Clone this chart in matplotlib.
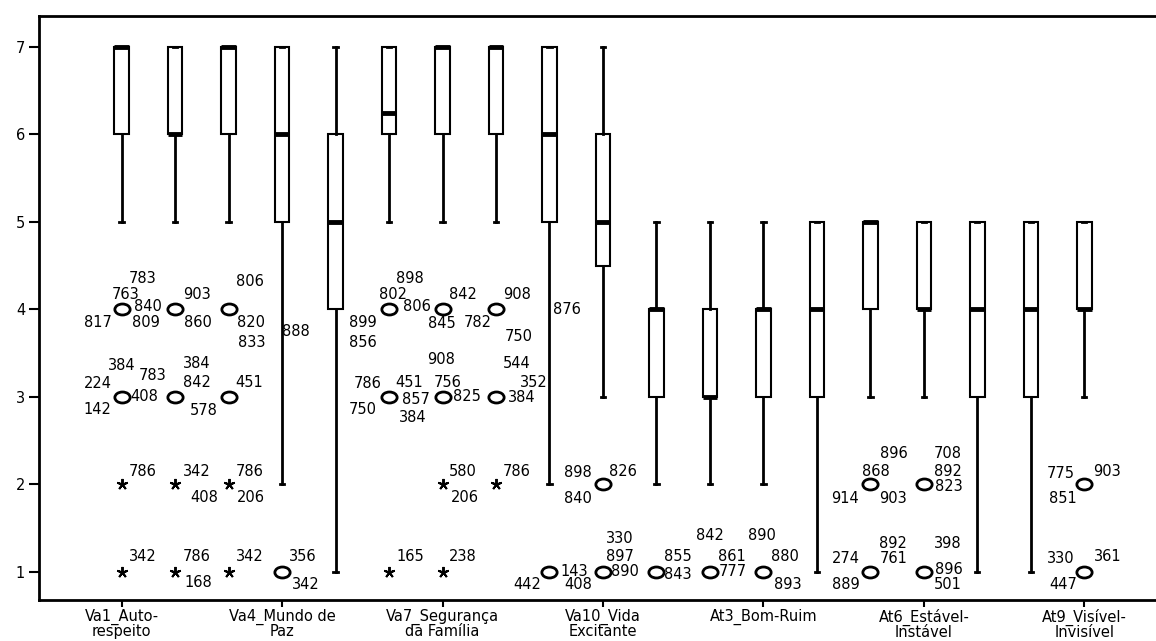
# SPSS style boxplots of the Va / At items, with labelled outliers

import matplotlib.pyplot as plt
from matplotlib.path import Path
from matplotlib.transforms import Affine2D

# Variables (one box each)
cats = ["Va1", "Va2", "Va3", "Va4", "Va5", "Va6", "Va7", "Va8", "Va9", "Va10",
        "At1", "At2", "At3", "At4", "At5", "At6", "At7", "At8", "At9"]
tick_idx = [0, 3, 6, 9, 12, 15, 18]
tick_labels = ["Va1_Auto-\nrespeito", "Va4_Mundo de\nPaz", "Va7_Segurança\nda Família",
               "Va10_Vida\nExcitante", "At3_Bom-Ruim", "At6_Estável-\nInstável",
               "At9_Visível-\nInvisível"]

# Box statistics
q1 = [6, 6, 6, 5, 4, 6, 6, 6, 5, 4.5, 3, 3, 3, 3, 4, 4, 3, 3, 4]
med = [7, 6, 7, 6, 5, 6.25, 7, 7, 6, 5, 4, 3, 4, 4, 5, 4, 4, 4, 4]
q3 = [7, 7, 7, 7, 6, 7, 7, 7, 7, 6, 4, 4, 4, 5, 5, 5, 5, 5, 5]
whislo = [5, 5, 5, 2, 1, 5, 5, 5, 2, 3, 2, 2, 2, 1, 3, 3, 1, 1, 3]
whishi = [7, 7, 7, 7, 7, 7, 7, 7, 7, 7, 5, 5, 5, 5, 5, 5, 5, 5, 5]

# Outliers: variable index, value, kind ('o' outlier, '*' extreme, '' label only), case ids
out_cat = [0, 1, 2, 3, 0, 1, 2, 0, 1, 2, 0, 1, 2, 3,
           5, 6, 7, 8, 5, 6, 7, 6, 7, 9, 5, 6, 8, 9,
           10, 11, 12, 14, 15, 14, 15, 18, 18]
out_val = [4, 4, 4, 4, 3, 3, 3, 2, 2, 2, 1, 1, 1, 1,
           4, 4, 4, 4, 3, 3, 3, 2, 2, 2, 1, 1, 1, 1,
           1, 1, 1, 2, 2, 1, 1, 2, 1]
out_kind = ["o", "o", "o", "", "o", "o", "o", "*", "*", "*", "*", "*", "*", "o",
            "o", "o", "o", "", "o", "o", "o", "*", "*", "o", "*", "*", "o", "o",
            "o", "o", "o", "o", "o", "o", "o", "o", "o"]
out_ids = [
    ["783", "763", "840", "817", "809"], ["903", "860"], ["806", "820", "833"], ["888"],
    ["384", "783", "224", "408", "142"], ["384", "842", "578"], ["451"],
    ["786"], ["342", "408"], ["786", "206"],
    ["342"], ["786", "168"], ["342"], ["356", "342"],
    ["898", "802", "806", "899", "856"], ["842", "845", "782"], ["908", "750"], ["876"],
    ["786", "451", "857", "750", "384"], ["908", "756", "825"], ["544", "352", "384"],
    ["580", "206"], ["786"], ["898", "826", "840"],
    ["165"], ["238"], ["442", "143"], ["330", "897", "890", "408"],
    ["855", "843"], ["842", "861", "777"], ["890", "880", "893"],
    ["896", "868", "914", "903"], ["708", "892", "823"],
    ["892", "274", "761", "889"], ["398", "896", "501"],
    ["775", "903", "851"], ["330", "361", "447"],
]

# label placement around each marker (pixels, y up)
label_offsets = [
    [(21, 31), (4, 15), (26, 3), (-24, -13), (24, -13)], [(22, 15), (23, -13)],
    [(21, 28), (22, -13), (23, -33)], [(14, -22)],
    [(0, 31), (31, 21), (-24, 13), (23, 0), (-24, -13)], [(22, 33), (22, 14), (29, -14)],
    [(21, 14)],
    [(21, 13)], [(22, 13), (29, -13)], [(21, 13), (22, -13)],
    [(21, 15)], [(22, 15), (23, -11)], [(21, 15)], [(21, 15), (24, -13)],
    [(21, 31), (4, 15), (28, 3), (-26, -13), (-26, -33)], [(20, 15), (-1, -14), (35, -13)],
    [(21, 15), (23, -27)], [(17, 0)],
    [(-21, 13), (20, 14), (27, -3), (-26, -13), (24, -21)], [(-1, 37), (5, 14), (24, 0)],
    [(21, 33), (38, 14), (26, -1)],
    [(20, 13), (22, -13)], [(21, 13)], [(-25, 12), (20, 13), (-25, -14)],
    [(21, 15)], [(20, 15)], [(-22, -13), (25, 0)], [(17, 33), (17, 15), (22, 0), (-25, -13)],
    [(21, 15), (21, -3)], [(0, 36), (22, 15), (23, 0)], [(-1, 36), (22, 15), (24, -13)],
    [(23, 31), (5, 13), (-25, -14), (23, -14)], [(24, 31), (24, 13), (25, -2)],
    [(23, 28), (-25, 13), (23, 13), (-25, -13)], [(24, 28), (25, 2), (24, -13)],
    [(-24, 11), (23, 13), (-21, -14)], [(-24, 13), (23, 15), (-21, -13)],
]

fig = plt.figure(figsize=(11.56, 6.41), dpi=100)
ax = fig.add_axes([0.0337, 0.064, 0.9758, 0.911])

stats = []
for i in range(len(cats)):
    stats.append({"q1": q1[i], "med": med[i], "q3": q3[i],
                  "whislo": whislo[i], "whishi": whishi[i], "fliers": []})

ax.bxp(stats, positions=range(len(cats)), widths=0.27, capwidths=0.08,
       patch_artist=True, showfliers=False, manage_ticks=False,
       boxprops=dict(facecolor="white", edgecolor="black", linewidth=1.5),
       medianprops=dict(color="black", linewidth=3.5, solid_capstyle="butt"),
       whiskerprops=dict(color="black", linewidth=2),
       capprops=dict(color="black", linewidth=2))

# slightly flattened circle like SPSS
ellipse = Path.unit_circle().transformed(Affine2D().scale(1, 0.72))

for i in range(len(out_cat)):
    x = out_cat[i]
    y = out_val[i]
    if out_kind[i] == "o":
        ax.plot(x, y, marker=ellipse, markersize=11, markerfacecolor="white",
                markeredgecolor="black", markeredgewidth=2, zorder=3)
    elif out_kind[i] == "*":
        ax.plot(x, y, marker=(5, 2, 0), markersize=8, color="black",
                markeredgewidth=1.4, zorder=3)
    for txt, (dx, dy) in zip(out_ids[i], label_offsets[i]):
        ax.annotate(txt, (x, y), xytext=(dx, dy), textcoords="offset pixels",
                    ha="center", va="center", fontsize=10.5, zorder=4)

ax.set_xlim(-1.546, 19.546)
ax.set_ylim(0.68, 7.354)
ax.set_yticks([1, 2, 3, 4, 5, 6, 7])
ax.set_xticks(tick_idx)
ax.set_xticklabels(tick_labels, fontsize=10.5, linespacing=0.92)
ax.tick_params(axis="y", labelsize=10.5, length=7, width=1.5, pad=3)
ax.tick_params(axis="x", length=5, width=1.5, pad=1)
for s in ax.spines.values():
    s.set_linewidth(2)
ax.spines["right"].set_visible(False)

fig.savefig("out.png", dpi=100)
